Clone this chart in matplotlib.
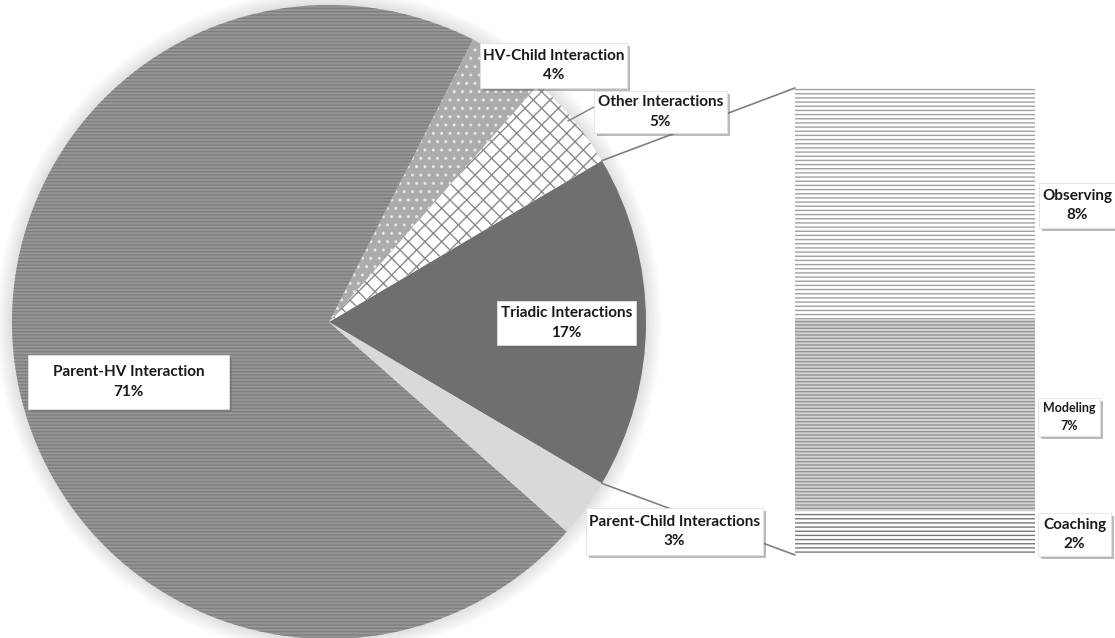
import matplotlib
matplotlib.use("Agg")
import matplotlib.pyplot as plt
from matplotlib.patches import ConnectionPatch, Rectangle, Circle
import matplotlib.patheffects as pe
import numpy as np

# ---- data ----
pie_labels = ["Triadic Interactions", "Other Interactions", "HV-Child Interaction",
              "Parent-HV Interaction", "Parent-Child Interactions"]
pie_values = [17, 5, 4, 71, 3]
bar_labels = ["Coaching", "Modeling", "Observing"]
bar_values = [1.6, 7.0, 8.4]

# ---- styles ----
pie_face = ["#6f6f6f", "#ffffff", "#ababab", "#979797", "#d9d9d9"]
pie_hatch = [None, "xx", "..", "-----", None]
pie_hcol = ["#6f6f6f", "#8a8a8a", "#e6e6e6", "#7e7e7e", "#d9d9d9"]
bar_face = ["#ffffff", "#d2d2d2", "#ffffff"]
bar_hatch = ["----", "-----", "----"]
bar_hcol = ["#777777", "#959595", "#a0a0a0"]

plt.rcParams['hatch.linewidth'] = 1.0
W, H = 1115, 638
fig = plt.figure(figsize=(W / 100, H / 100), dpi=100)

def fx(px):
    return px / W

def fy(py):
    return 1 - py / H

# pie axes: centre (329, 322) px, radius 317 px
cx, cy, r = 329, 322, 317
ax1 = fig.add_axes([fx(cx - r), fy(cy + r), 2 * r / W, 2 * r / H])
# soft glow behind the pie
for k in range(10):
    ax1.add_patch(Circle((0, 0), 1.0 + 0.005 * (k + 1), facecolor="black",
                         edgecolor="none", alpha=0.012, clip_on=False, zorder=0))
start = -pie_values[0] * 3.6 / 2
wedges, _ = ax1.pie(pie_values, startangle=start, counterclock=True, radius=1,
                    wedgeprops=dict(linewidth=0))
for w, fc, hc, ht in zip(wedges, pie_face, pie_hcol, pie_hatch):
    w.set_facecolor(fc)
    w.set_edgecolor(hc)
    w.set_zorder(2)
    if ht:
        w.set_hatch(ht)
ax1.set_xlim(-1, 1)
ax1.set_ylim(-1, 1)
ax1.axis("off")

# bar axes: x 795-1035, y 88-555 px
bx0, bx1, by0, by1 = 795, 1035, 88, 555
ax2 = fig.add_axes([fx(bx0), fy(by1), (bx1 - bx0) / W, (by1 - by0) / H])
bottom = 0
for v, fc, hc, ht in zip(bar_values, bar_face, bar_hcol, bar_hatch):
    ax2.bar(0, v, bottom=bottom, width=1, color=fc, edgecolor=hc, hatch=ht, linewidth=0)
    bottom += v
ax2.set_xlim(-0.5, 0.5)
ax2.set_ylim(0, sum(bar_values))
ax2.axis("off")

# connector lines
theta1, theta2 = wedges[0].theta1, wedges[0].theta2
total = sum(bar_values)
for th, yb in [(theta2, total), (theta1, 0)]:
    x = np.cos(np.radians(th))
    y = np.sin(np.radians(th))
    con = ConnectionPatch(xyA=(-0.5, yb), coordsA=ax2.transData,
                          xyB=(x, y), coordsB=ax1.transData,
                          color="#7f7f7f", linewidth=1.2)
    fig.add_artist(con)

# labels
font = ["Lato", "DejaVu Sans"]
shadow = [pe.withSimplePatchShadow(offset=(2.5, -2.5), shadow_rgbFace="#666666", alpha=0.45)]

def lab(box, name, val, size=11):
    x0, y0, x1, y1 = box
    rect = Rectangle((fx(x0), fy(y1)), (x1 - x0) / W, (y1 - y0) / H,
                     transform=fig.transFigure, facecolor="white",
                     edgecolor="#e0e0e0", linewidth=0.6, zorder=9)
    rect.set_path_effects(shadow)
    fig.add_artist(rect)
    fig.text(fx((x0 + x1) / 2), fy((y0 + y1) / 2), f"{name}\n{val:.0f}%",
             ha="center", va="center", fontsize=size, fontweight="bold",
             family=font, color="#1a1a1a", linespacing=1.5, zorder=10)

pie_boxes = [(497, 301, 636, 345), (594, 91, 727, 133), (480, 43, 627, 88),
             (28, 355, 229, 409), (586, 508, 763, 555)]
for b, n, v in zip(pie_boxes, pie_labels, pie_values):
    lab(b, n, v)

bar_boxes = [(1038, 513, 1111, 556), (1038, 398, 1100, 436), (1039, 183, 1116, 228)]
bar_size = [11, 9, 11]
for b, n, v, s in zip(bar_boxes, bar_labels, bar_values, bar_size):
    lab(b, n, v, s)

# leader line for Other Interactions
fig.add_artist(plt.Line2D([fx(568), fx(594)], [fy(121), fy(107)], color="#7f7f7f",
                          linewidth=1.0))

fig.savefig("out.png", dpi=100, facecolor="white")
